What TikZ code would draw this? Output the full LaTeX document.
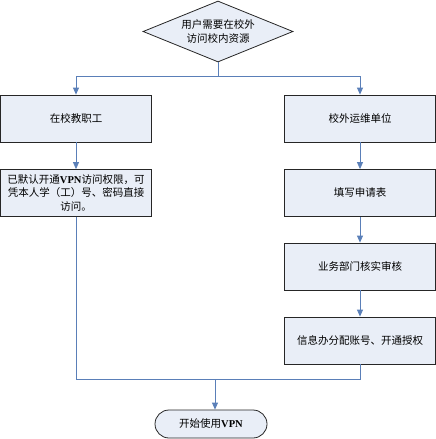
\documentclass[tikz,border=0pt]{standalone}
\usepackage{fontspec}
\setmainfont{Liberation Serif}
\newfontfamily\cjk{Noto Sans CJK SC}
\newcommand{\vpnword}{{\rmfamily\bfseries VPN}}
\usetikzlibrary{shapes.geometric,shapes.misc,arrows.meta,positioning}
\definecolor{boxfill}{RGB}{233,238,247}
\definecolor{linkblue}{RGB}{90,127,184}
\begin{document}
\begin{tikzpicture}[x=1pt,y=1pt,
  every node/.style={font=\cjk\fontsize{10.5pt}{13.5pt}\selectfont},
  procbox/.style={draw=black!85,line width=0.8pt,fill=boxfill,minimum width=151pt,minimum height=47pt,inner sep=2pt,align=center},
  decbox/.style={draw=black!85,line width=0.8pt,fill=boxfill,diamond,aspect=2.46,minimum width=150pt,minimum height=61pt,inner sep=0pt,align=center},
  termbox/.style={draw=black!85,line width=0.8pt,fill=boxfill,rounded rectangle,minimum width=116pt,minimum height=28pt,inner sep=2pt},
  link/.style={draw=linkblue,line width=0.8pt},
  arr/.style={link,-{Triangle[length=7pt,width=6pt]}}]
\useasboundingbox (0,0) rectangle (436,-439);
\node[decbox] (start) at (218,-31.5) {用户需要在校外\\访问校内资源};
\node[procbox] (staff) at (76,-118.5) {在校教职工};
\node[procbox] (ext) at (360,-118.5) {校外运维单位};
\node[procbox] (default) at (76,-193) {已默认开通\vpnword 访问权限，可\\凭本人学（工）号、密码直接\\访问。};
\node[procbox] (form) at (360,-193) {填写申请表};
\node[procbox] (review) at (360,-266.5) {业务部门核实审核};
\node[procbox] (assign) at (360,-340.5) {信息办分配账号、开通授权};
\node[termbox] (use) at (211,-424) {开始使用\vpnword};
\coordinate (split) at (218,-76);
\coordinate (splitL) at (76,-76);
\coordinate (splitR) at (360,-76);
\coordinate (joinL) at (76,-379);
\coordinate (joinR) at (360,-379);
\coordinate (joinM) at (215,-379);
\draw[link] (start.south) -- (split);
\draw[link] (splitL) -- (splitR);
\draw[arr] (splitL) -- (staff.north);
\draw[arr] (splitR) -- (ext.north);
\draw[arr] (staff.south) -- (default.north);
\draw[arr] (ext.south) -- (form.north);
\draw[arr] (form.south) -- (review.north);
\draw[arr] (review.south) -- (assign.north);
\draw[link] (default.south) -- (joinL) -- (joinR) -- (assign.south);
\draw[arr] (joinM) -- (joinM |- use.north);
\end{tikzpicture}
\end{document}
